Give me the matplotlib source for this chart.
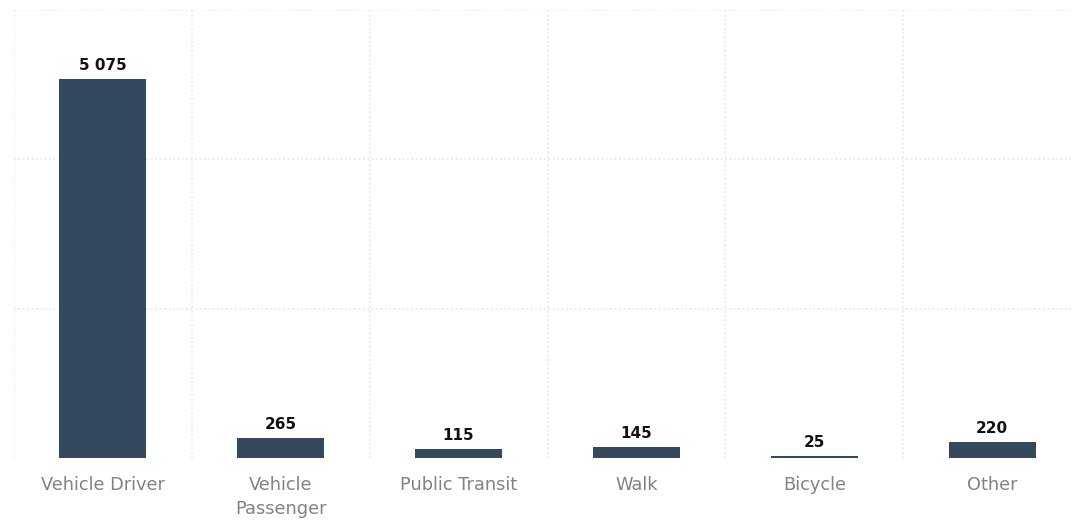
import numpy as np
import matplotlib.pyplot as plt
from matplotlib.ticker import MultipleLocator

categories = ["Vehicle Driver", "Vehicle\nPassenger", "Public Transit",
              "Walk", "Bicycle", "Other"]
trips = [5075, 265, 115, 145, 25, 220]
value_labels = ["5 075", "265", "115", "145", "25", "220"]

fig = plt.figure(figsize=(10.73, 5.2), dpi=100)
ax = fig.add_axes([14 / 1073, 62 / 520, 1067 / 1073, 448 / 520])

x = np.arange(len(categories))
bars = ax.bar(x, trips, width=0.49, color="#34495e", zorder=2)

for rect, lab in zip(bars, value_labels):
    ax.text(rect.get_x() + rect.get_width() / 2, rect.get_height() + 80, lab,
            ha="center", va="bottom", fontsize=11, fontweight="bold",
            color="#111111")

ax.set_xlim(-0.5, len(categories) - 0.5)
ax.set_ylim(0, 6000)
ax.set_xticks(x)
ax.set_xticklabels(categories, fontsize=12.8, color="#7f8388",
                   linespacing=1.45)
ax.xaxis.set_minor_locator(MultipleLocator(1, offset=0.5))
ax.set_yticks([2000, 4000, 6000])
ax.set_yticklabels([])
ax.tick_params(axis="both", which="both", length=0, pad=13)

ax.grid(axis="y", which="major", color="#e6e6e6", linestyle=":", linewidth=1.2)
ax.grid(axis="x", which="minor", color="#e6e6e6", linestyle=":", linewidth=1.2)
for spine in ax.spines.values():
    spine.set_visible(False)
ax.set_axisbelow(True)

fig.savefig("out.png", dpi=100)
